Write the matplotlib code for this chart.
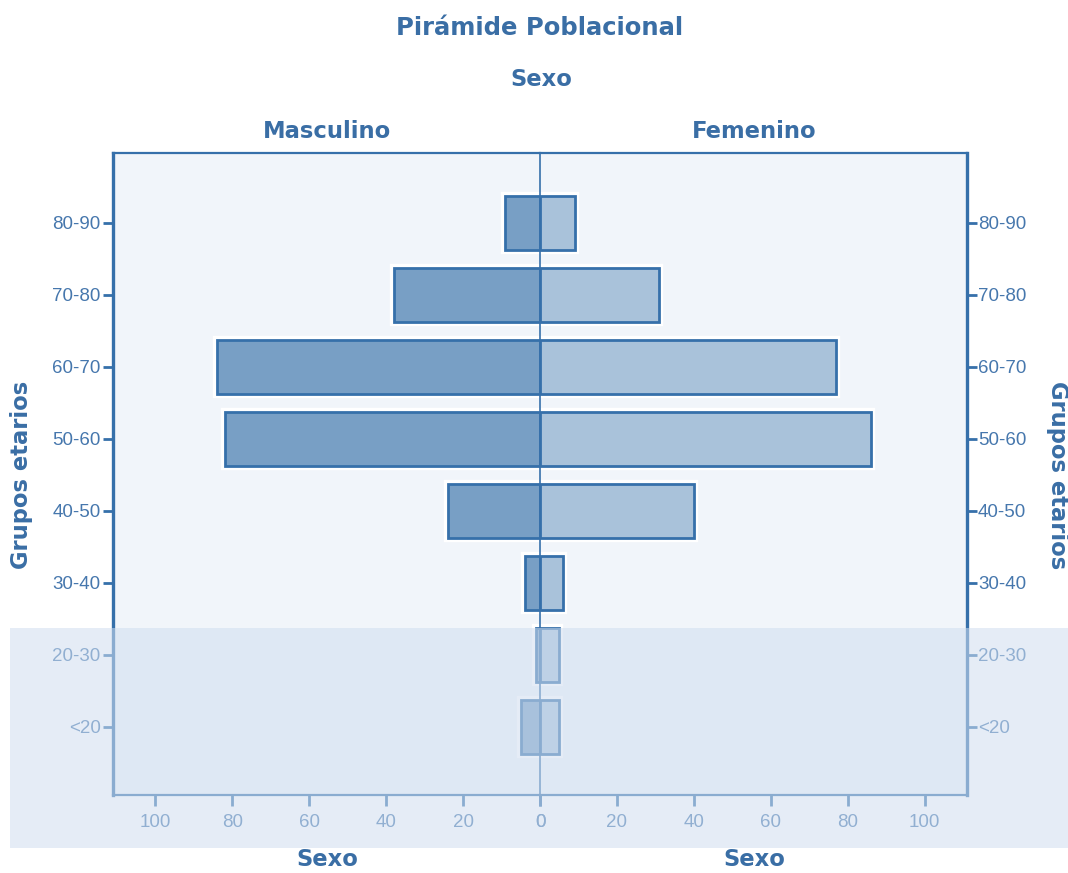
import matplotlib.pyplot as plt
import matplotlib.patheffects as pe
from matplotlib.patches import Rectangle

# Grupos etarios, de abajo hacia arriba
grupos = ["<20", "20-30", "30-40", "40-50", "50-60", "60-70", "70-80", "80-90"]
masculino = [5, 1, 4, 24, 82, 84, 38, 9]
femenino = [5, 5, 6, 40, 86, 77, 31, 9]
ticks_x = [0, 20, 40, 60, 80, 100]

azul = "#3a6ea5"
azul_tick = "#4677ad"
fondo = "#f1f5fa"
borde = "#3670aa"

plt.rcParams["font.family"] = ["Liberation Sans", "DejaVu Sans"]

fig = plt.figure(figsize=(10.68, 8.73), dpi=100)
ax_m = fig.add_axes([113 / 1068, 78 / 873, 427 / 1068, 642 / 873])
ax_f = fig.add_axes([540 / 1068, 78 / 873, 427 / 1068, 642 / 873], sharey=ax_m)

halo = [pe.Stroke(linewidth=6, foreground="white"), pe.Normal()]
y = list(range(len(grupos)))

ax_m.barh(y, masculino, height=0.75, color="#789fc5", edgecolor=borde,
          linewidth=2, path_effects=halo, zorder=3)
ax_f.barh(y, femenino, height=0.75, color="#a9c2da", edgecolor=borde,
          linewidth=2, path_effects=halo, zorder=3)

ax_m.set_xlim(111, 0)
ax_f.set_xlim(0, 111)
ax_m.set_ylim(-0.95, 7.97)

for ax in (ax_m, ax_f):
    ax.set_facecolor(fondo)
    ax.set_xticks(ticks_x)
    ax.set_xticklabels([str(t) for t in ticks_x])
    ax.tick_params(axis="x", direction="out", length=8, width=2, color=borde,
                   labelcolor=azul_tick, labelsize=13.5, pad=6)
    ax.tick_params(axis="y", direction="out", length=7, width=2, color=borde,
                   labelcolor=azul_tick, labelsize=13.5, pad=2)
    for s in ax.spines.values():
        s.set_color(borde)
    ax.spines["top"].set_linewidth(1.6)
    ax.spines["bottom"].set_linewidth(1.6)

ax_m.set_yticks(y)
ax_m.set_yticklabels(grupos)
ax_m.spines["left"].set_linewidth(2.4)
ax_m.spines["right"].set_visible(False)

ax_f.yaxis.tick_right()
ax_f.tick_params(axis="y", labelright=True, labelleft=False, pad=1)
ax_f.spines["right"].set_linewidth(2.4)
# eje central sobre las barras
ax_f.spines["left"].set_linewidth(1.2)
ax_f.spines["left"].set_zorder(5)

titulo = dict(color=azul, fontweight="bold", family="DejaVu Sans",
              ha="center", va="center")
fig.text(540 / 1068, 1 - 28 / 873, "Pirámide Poblacional", fontsize=17.5, **titulo)
fig.text(541 / 1068, 1 - 80 / 873, "Sexo", fontsize=16.3, **titulo)
fig.text(327 / 1068, 1 - 131 / 873, "Masculino", fontsize=16.3, **titulo)
fig.text(754 / 1068, 1 - 131 / 873, "Femenino", fontsize=16.3, **titulo)
fig.text(327 / 1068, 1 - 860 / 873, "Sexo", fontsize=16.3, **titulo)
fig.text(754 / 1068, 1 - 860 / 873, "Sexo", fontsize=16.3, **titulo)
fig.text(22 / 1068, 1 - 475 / 873, "Grupos etarios", fontsize=16.3,
         rotation=90, **titulo)
fig.text(1057 / 1068, 1 - 475 / 873, "Grupos etarios", fontsize=16.3,
         rotation=270, **titulo)

# franja translúcida sobre la parte inferior
fig.add_artist(Rectangle((10 / 1068, 1 - 848 / 873), 1 - 10 / 1068, 220 / 873,
                         transform=fig.transFigure, facecolor="#d0def0",
                         edgecolor="none", alpha=0.55, zorder=10))

fig.savefig("out.png", dpi=100)
